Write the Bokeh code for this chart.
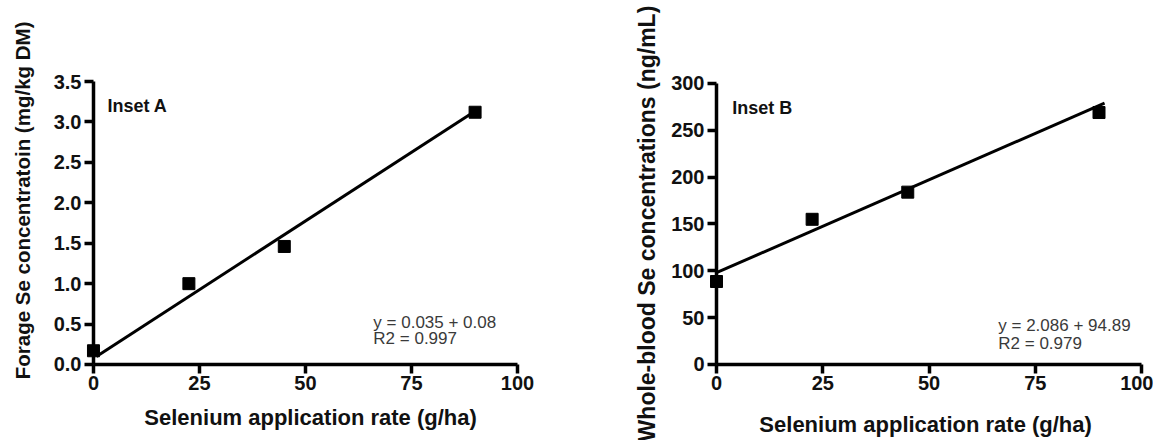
import math
from bokeh.plotting import figure
from bokeh.models import Range1d, Label
from bokeh.layouts import row
from bokeh.embed import file_html
from bokeh.resources import INLINE

# ---- data ----
rate_a = [0, 22.5, 45, 90]
forage_se = [0.17, 1.0, 1.46, 3.12]
fit_a_x = [0.7, 90.5]
fit_a_y = [0.10, 3.15]

rate_b = [0, 22.5, 45, 90]
blood_se = [88.6, 155, 184, 269]
fit_b_x = [0, 91.3]
fit_b_y = [98, 279]

x_ticks = [0, 25, 50, 75, 100]
x_tick_labels = ["0", "25", "50", "75", "100"]
y_ticks_a = [0, 0.5, 1.0, 1.5, 2.0, 2.5, 3.0, 3.5]
y_tick_labels_a = ["0.0", "0.5", "1.0", "1.5", "2.0", "2.5", "3.0", "3.5"]
y_ticks_b = [0, 50, 100, 150, 200, 250, 300]
y_tick_labels_b = ["0", "50", "100", "150", "200", "250", "300"]

x_title = "Selenium application rate (g/ha)"
y_title_a = "Forage Se concentratoin (mg/kg DM)"
y_title_b = "Whole-blood Se concentrations (ng/mL)"
inset_a = "Inset A"
inset_b = "Inset B"
eq_a = ["y = 0.035 + 0.08", "R2 = 0.997"]
eq_b = ["y = 2.086 + 94.89", "R2 = 0.979"]

FONT = "Liberation Sans"
H = 440


def make_panel(xs, ys, fx, fy, yticks, ylabels, x_range, y_range, ybound, width,
               inset_text, inset_pos, eq_lines, eq_pos, ytitle, ytitle_size,
               ytitle_pos, xtitle_pos):
    p = figure(width=width, height=H, output_backend="svg",
               toolbar_location=None,
               x_range=Range1d(*x_range), y_range=Range1d(*y_range),
               min_border_left=0, min_border_right=0,
               min_border_top=0, min_border_bottom=0)
    p.outline_line_color = None
    p.xgrid.visible = False
    p.ygrid.visible = False
    p.background_fill_color = "white"
    p.border_fill_color = "white"

    for ax in (p.xaxis[0], p.yaxis[0]):
        ax.fixed_location = 0
        ax.axis_line_width = 3.5
        ax.axis_line_color = "black"
        ax.major_tick_line_width = 3.5
        ax.major_tick_line_color = "black"
        ax.major_tick_out = 9
        ax.major_tick_in = 0
        ax.minor_tick_line_color = None
        ax.major_label_text_font = FONT
        ax.major_label_text_font_style = "bold"
        ax.major_label_text_font_size = "20px"
        ax.major_label_text_color = "#111111"
        ax.major_label_standoff = 3

    p.xaxis.ticker = x_ticks
    p.xaxis.major_label_overrides = {t: l for t, l in zip(x_ticks, x_tick_labels)}
    p.xaxis.bounds = (0, 100)
    p.yaxis.ticker = yticks
    p.yaxis.major_label_overrides = {t: l for t, l in zip(yticks, ylabels)}
    p.yaxis.bounds = ybound

    p.line(fx, fy, line_width=3, line_color="black")
    p.scatter(xs, ys, marker="square", size=12, color="black")

    p.add_layout(Label(x=inset_pos[0], y=inset_pos[1], text=inset_text,
                       text_font=FONT, text_font_style="bold",
                       text_font_size="18px", text_color="#111111",
                       text_baseline="middle", text_align="left"))
    for i, line in enumerate(eq_lines):
        p.add_layout(Label(x=eq_pos[0], y=eq_pos[1][i], text=line,
                           text_font=FONT, text_font_size="17px",
                           text_color="#3a3a3a", text_baseline="middle",
                           text_align="left"))
    p.add_layout(Label(x=ytitle_pos[0], y=ytitle_pos[1], text=ytitle,
                       angle=math.pi / 2, text_font=FONT,
                       text_font_style="bold", text_font_size=ytitle_size,
                       text_color="#111111", text_align="center",
                       text_baseline="middle"))
    p.add_layout(Label(x=xtitle_pos[0], y=xtitle_pos[1], text=x_title,
                       text_font=FONT, text_font_style="bold",
                       text_font_size="22px", text_color="#111111",
                       text_align="center", text_baseline="alphabetic"))
    return p


# left panel: x 0 -> px 93, 100 -> px 517 ; y 0 -> px 364, 3.5 -> px 81
p1 = make_panel(rate_a, forage_se, fit_a_x, fit_a_y, y_ticks_a, y_tick_labels_a,
                (-21.93, 114.39), (-0.940, 4.502), (0, 3.5), 578,
                inset_a, (3.3, 3.20), eq_a, (66, [0.52, 0.32]),
                y_title_a, "20.5px", (-16.75, 2.03), (51.2, -0.655))

# right panel (page x from 578): x 0 -> px 716, 100 -> px 1141 ; y 0 -> 364, 300 -> 83
p2 = make_panel(rate_b, blood_se, fit_b_x, fit_b_y, y_ticks_b, y_tick_labels_b,
                (-32.47, 102.82), (-81.14, 388.6), (0, 300), 575,
                inset_b, (3.7, 273.6), eq_b, (66.3, [41.6, 22.4]),
                y_title_b, "23px", (-16.24, 150.5), (49.2, -64.06))

layout = row(p1, p2)
open("out.html", "w").write(file_html(layout, INLINE))
